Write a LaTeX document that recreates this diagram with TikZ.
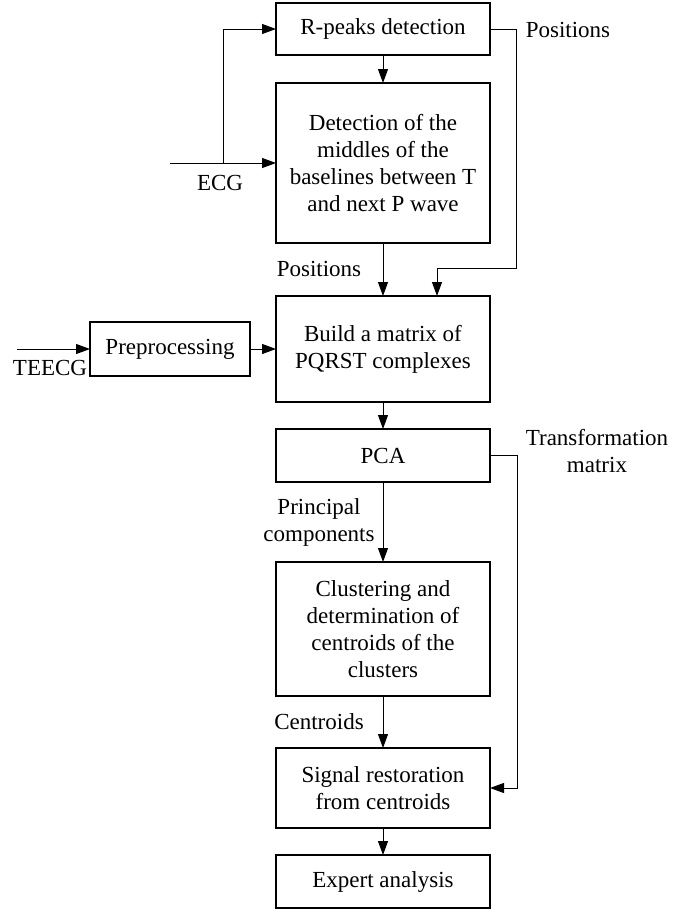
\documentclass[tikz,border=0pt]{standalone}
\usepackage{fontspec}
\setmainfont{Liberation Serif}
\usetikzlibrary{positioning, arrows.meta}
\tikzset{
  x=1pt, y=-1pt, % one unit per pixel of the sketch, y going down
  node distance=27pt, % default gap between two stacked blocks
  block/.style={draw, line width=1.6pt, outer sep=0pt, minimum width=214pt, align=center, font=\fontsize{23}{27}\selectfont, inner sep=2pt}, % every processing block
  flow/.style={-{Triangle[length=14pt,width=10pt]}, line width=1pt}, % the connectors
  lbl/.style={font=\fontsize{23}{27}\selectfont, align=center}, % texts beside the connectors
}
\begin{document}
\begin{tikzpicture}
  \useasboundingbox (0,0) rectangle (692,911);

  \node[block, minimum height=52pt] (RPEAKS) at (383,29) {R-peaks detection};
  \node[block, minimum height=160pt, below=28pt of RPEAKS] (DETECT) {Detection of the\\middles of the\\baselines between T\\and next P wave};
  \node[block, minimum height=106pt, below=53pt of DETECT] (BUILD) {Build a matrix of\\PQRST complexes};
  \node[block, minimum height=53pt, below=of BUILD] (PCA) {PCA};
  \node[block, minimum height=134pt, below=80pt of PCA] (CLUSTER) {Clustering and\\determination of\\centroids of the\\clusters};
  \node[block, minimum height=80pt, below=52pt of CLUSTER] (RESTORE) {Signal restoration\\from centroids};
  \node[block, minimum height=53pt, below=of RESTORE] (EXPERT) {Expert analysis};
  \node[block, minimum width=160pt, minimum height=54pt, left=26pt of BUILD] (PREPROC) {Preprocessing};

  \node[lbl] (ECG) at (220,183) {ECG};
  \node[lbl] (POS_TOP) at (568,30) {Positions};
  \node[lbl] (POS_MID) at (319,269) {Positions};
  \node[lbl] (TEECG) at (50,368) {TEECG};
  \node[lbl] (TRMAT) at (597,451) {Transformation\\matrix};
  \node[lbl] (PRINC) at (319,522) {Principal\\components};
  \node[lbl] (CENTR) at (319,722) {Centroids};

  \coordinate[left=106pt of DETECT.west] (ECG_IN);
  \coordinate[left=53pt of DETECT.west] (ECG_SPLIT);
  \coordinate[left=73pt of PREPROC.west] (TEECG_IN);
  \coordinate[right=27pt of RESTORE.east] (TR_BEND);
  \coordinate (POS_BEND) at (516,268);

  \draw[flow] (ECG_IN) -- (DETECT.west);
  \draw[flow] (ECG_SPLIT) |- (RPEAKS.west);
  \draw[flow] (RPEAKS) -- (DETECT);
  \draw[flow] (DETECT) -- (BUILD);
  \draw[flow] (RPEAKS.east) -| (POS_BEND) -| ([xshift=54pt]BUILD.north);
  \draw[flow] (TEECG_IN) -- (PREPROC);
  \draw[flow] (PREPROC) -- (BUILD);
  \draw[flow] (BUILD) -- (PCA);
  \draw[flow] (PCA) -- (CLUSTER);
  \draw[flow] (PCA.east) -| (TR_BEND) -- (RESTORE.east);
  \draw[flow] (CLUSTER) -- (RESTORE);
  \draw[flow] (RESTORE) -- (EXPERT);
\end{tikzpicture}
\end{document}
